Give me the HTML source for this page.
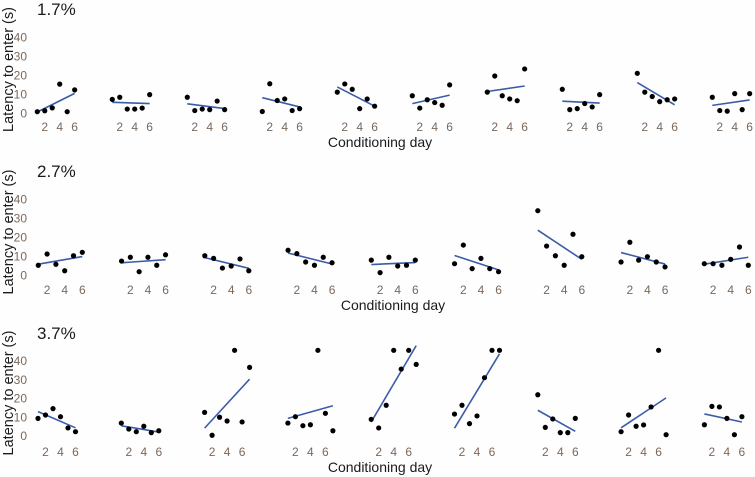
<!DOCTYPE html>
<html><head><meta charset="utf-8">
<style>
html,body{margin:0;padding:0;background:#fefefe;}
svg{display:block;font-family:"Liberation Sans",sans-serif;}
</style></head>
<body>
<svg id="chart" width="755" height="477" viewBox="0 0 755 477" xmlns="http://www.w3.org/2000/svg"></svg>
<script>
const rowLabels = ["1.7%", "2.7%", "3.7%"];
const xTickLabels = [2, 4, 6];
const yTickLabels = [0, 10, 20, 30, 40];
const row1Series = [
  [1, 1.5, 3, 15.5, 1, 12.5],
  [7.5, 8.6, 2.4, 2.4, 2.9, 10],
  [8.6, 1.6, 2.4, 2.1, 6.6, 2.1],
  [1.1, 15.7, 6.9, 7.7, 1.6, 2.6],
  [11.3, 15.6, 12.8, 2.6, 7.7, 3.9],
  [9.4, 2.9, 7.3, 5.8, 4.4, 15.1],
  [11.3, 19.8, 9.4, 7.7, 6.8, 23.5],
  [12.8, 2.1, 2.6, 5.3, 3.5, 10],
  [21.2, 11.3, 9, 6.3, 7.3, 7.7],
  [8.6, 1.6, 1.3, 10.5, 2.1, 10.5]
];
const row2Series = [
  [5.3, 11.2, 5.8, 2.4, 10.3, 12.1],
  [7.5, 9.5, 1.9, 9.5, 5.3, 10.8],
  [10.3, 8.9, 3.8, 4.9, 8.6, 2.4],
  [13.2, 11.4, 7, 5.3, 9.5, 6.6],
  [8, 1.4, 9.5, 4.9, 5.3, 8],
  [6.1, 15.9, 3.5, 8.9, 3.5, 1.9],
  [34, 15.4, 10.3, 5.3, 21.6, 9.8],
  [7, 17.4, 8, 9.8, 7, 4.4],
  [6.1, 6.1, 5.3, 8.4, 14.9, 5.3]
];
const row3Series = [
  [9.4, 11.2, 14.6, 10.3, 4.3, 2.3],
  [6.9, 3.7, 2.3, 5.2, 1.8, 2.8],
  [12.6, 0.4, 10, 8, 45.7, 7.5, 36.6],
  [6.9, 10.3, 5.5, 6, 45.7, 12.1, 2.8],
  [8.9, 4.3, 16.4, 45.7, 35.7, 45.7, 38.2],
  [11.7, 16.4, 6.6, 10.7, 31.1, 45.7, 45.7],
  [22, 4.6, 9.1, 1.8, 1.8, 9.4],
  [2.3, 11.2, 5.2, 5.9, 15.5, 45.7, 0.7],
  [6, 15.8, 15.5, 9.4, 0.7, 10.3]
];
const allRows = [row1Series, row2Series, row3Series];
const layout = [
  {x0: 37.3, panelStep: 75, dayStep: 7.47, y0: 113.6, k: 1.9, tickY: 131, titleX: 380, titleY: 147, labelY: 15, ytTop: 14, ytBot: 125},
  {x0: 38.3, panelStep: 83.25, dayStep: 8.8, y0: 275.3, k: 1.9, tickY: 294, titleX: 393, titleY: 310, labelY: 177, ytTop: 176, ytBot: 288},
  {x0: 38, panelStep: 83.3, dayStep: 7.5, y0: 436, k: 1.875, tickY: 456, titleX: 380, titleY: 472, labelY: 339, ytTop: 336, ytBot: 450}
];
const NS = "http://www.w3.org/2000/svg";
const svg = document.getElementById("chart");
function mk(tag, attrs, parent) {
  const e = document.createElementNS(NS, tag);
  for (const a in attrs) e.setAttribute(a, attrs[a]);
  (parent || svg).appendChild(e);
  return e;
}
allRows.forEach((rowData, r) => {
  const L = layout[r];
  const g = mk("g", {});
  
  
  const xScale = (p, d) => L.x0 + p * L.panelStep + (d - 1) * L.dayStep;
  const yScale = v => L.y0 - v * L.k;
  const lab = mk("text", {x: 37, y: L.labelY, "font-size": 17, fill: "#1a1a1a"}, g);
  lab.textContent = rowLabels[r];
  
  
  yTickLabels.forEach(t => {
    const tt = mk("text", {x: 27, y: yScale(t) + 4, "font-size": 12, fill: "#7a685c", "text-anchor": "end"}, g);
    tt.textContent = t;
    
    
  });
  const cy = (L.ytTop + L.ytBot) / 2;
  const yt = mk("text", {x: 0, y: 0, "font-size": 14.5, fill: "#1a1a1a", "text-anchor": "middle", transform: "translate(13," + cy + ") rotate(-90)"}, g);
  yt.textContent = "Latency to enter (s)";
  
  
  const xt = mk("text", {x: L.titleX, y: L.titleY, "font-size": 14, fill: "#1a1a1a", "text-anchor": "middle"}, g);
  xt.textContent = "Conditioning day";
  
  
  rowData.forEach((vals, p) => {
    const pg = mk("g", {}, g);
    
    
    xTickLabels.forEach(d => {
      const t = mk("text", {x: xScale(p, d), y: L.tickY, "font-size": 12, fill: "#7a685c", "text-anchor": "middle"}, pg);
      t.textContent = d;
      
      
    });
    const n = vals.length;
    let sx = 0, sy = 0, sxx = 0, sxy = 0;
    vals.forEach((v, i) => { const x = i + 1; sx += x; sy += v; sxx += x * x; sxy += x * v; });
    const b = (n * sxy - sx * sy) / (n * sxx - sx * sx);
    const a = (sy - b * sx) / n;
    const ln = mk("line", {x1: xScale(p, 1), y1: yScale(a + b), x2: xScale(p, n), y2: yScale(a + b * n), stroke: "#3b5ca8", "stroke-width": 1.6}, pg);
    
    
    vals.forEach((v, i) => {
      const c = mk("circle", {cx: xScale(p, i + 1), cy: yScale(v), r: 2.6, fill: "#000"}, pg);
      
      
    });
  });
});
</script>
</body></html>
